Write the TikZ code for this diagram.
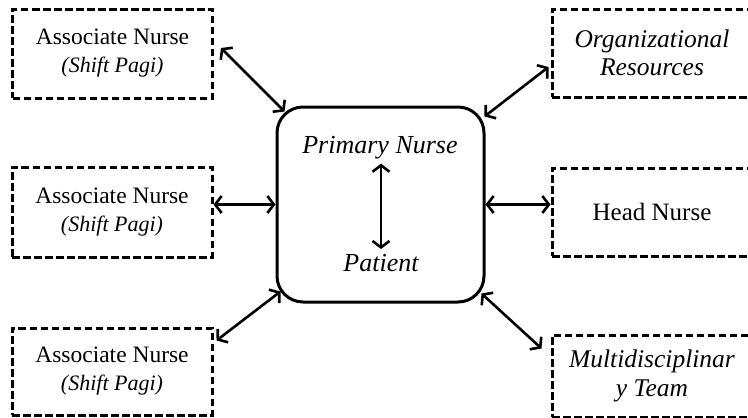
\documentclass[tikz,border=0pt]{standalone}
\usepackage{fontspec}
\setmainfont{Liberation Serif}
\usetikzlibrary{arrows.meta,calc}

\tikzset{
  dbox/.style={draw=black, line width=3pt, dash pattern=on 7.5pt off 3.5pt,
    minimum width=200pt, minimum height=88pt, inner sep=0pt, align=center,
    fill=white},
  hub/.style={draw=black, line width=3pt, rounded corners=26pt,
    minimum width=207pt, minimum height=195pt, inner sep=0pt},
  link/.style={line width=2.6pt,
    {Straight Barb[length=6.5pt,width=17pt,line width=2.6pt]}-{Straight Barb[length=6.5pt,width=17pt,line width=2.6pt]}},
  assoctxt/.style={font=\fontsize{23.5}{28}\selectfont},
  righttxt/.style={font=\fontsize{25.5}{28.5}\selectfont\itshape},
  hubtxt/.style={font=\fontsize{26}{30}\selectfont\itshape, inner sep=0pt}
}

\newcommand{\assoc}{Associate Nurse\\
  {\fontsize{22}{28}\selectfont\itshape (Shift Pagi)}}

\begin{document}
\begin{tikzpicture}[x=1pt, y=-1pt]
  \useasboundingbox (0,0) rectangle (748,418);
  \clip (0,0) rectangle (748,418);

  % central rounded box with the nurse--patient pair
  \node[hub] (c) at (380.5,204.5) {};
  \node[hubtxt] (pn) at (380,148) {Primary Nurse};
  \node[hubtxt] (pt) at (381,263) {Patient};
  \draw[link] ($(pn.south)+(1,4)$) -- ($(pt.north)+(0,-5)$);

  % associate nurses on the left
  \node[dbox, assoctxt, minimum height=89pt] (tl) at (112.5,53.5) {\assoc};
  \node[dbox, assoctxt, minimum height=90pt] (ml) at (112,212) {\assoc};
  \node[dbox, assoctxt, minimum height=87pt] (bl) at (112,371.5) {\assoc};

  % partners on the right
  \node[dbox, righttxt] (tr) at (652,53) {Organizational\\ Resources};
  \node[dbox, font=\fontsize{25}{28}\selectfont] (mr) at (652,212) {Head Nurse};
  \node[dbox, righttxt, minimum height=82pt] (br) at (652,376) {Multidisciplinar\\ y Team};

  % two-way links
  \draw[link] ($(tl.east)+(7,-5.5)$) -- ($(c.north west)+(9,6)$);
  \draw[link] (ml.east |- c.west) -- (c.west);
  \draw[link] ($(bl.north east)+(3,14)$) -- ($(c.south west)+(5,-12)$);
  \draw[link] ($(tr.west)+(-2,14)$) -- ($(c.north east)+(-1,11)$);
  \draw[link] (c.east) -- (mr.west |- c.east);
  \draw[link] ($(br.north west)+(-9,15)$) -- ($(c.south east)+(-4,-10)$);
\end{tikzpicture}
\end{document}
